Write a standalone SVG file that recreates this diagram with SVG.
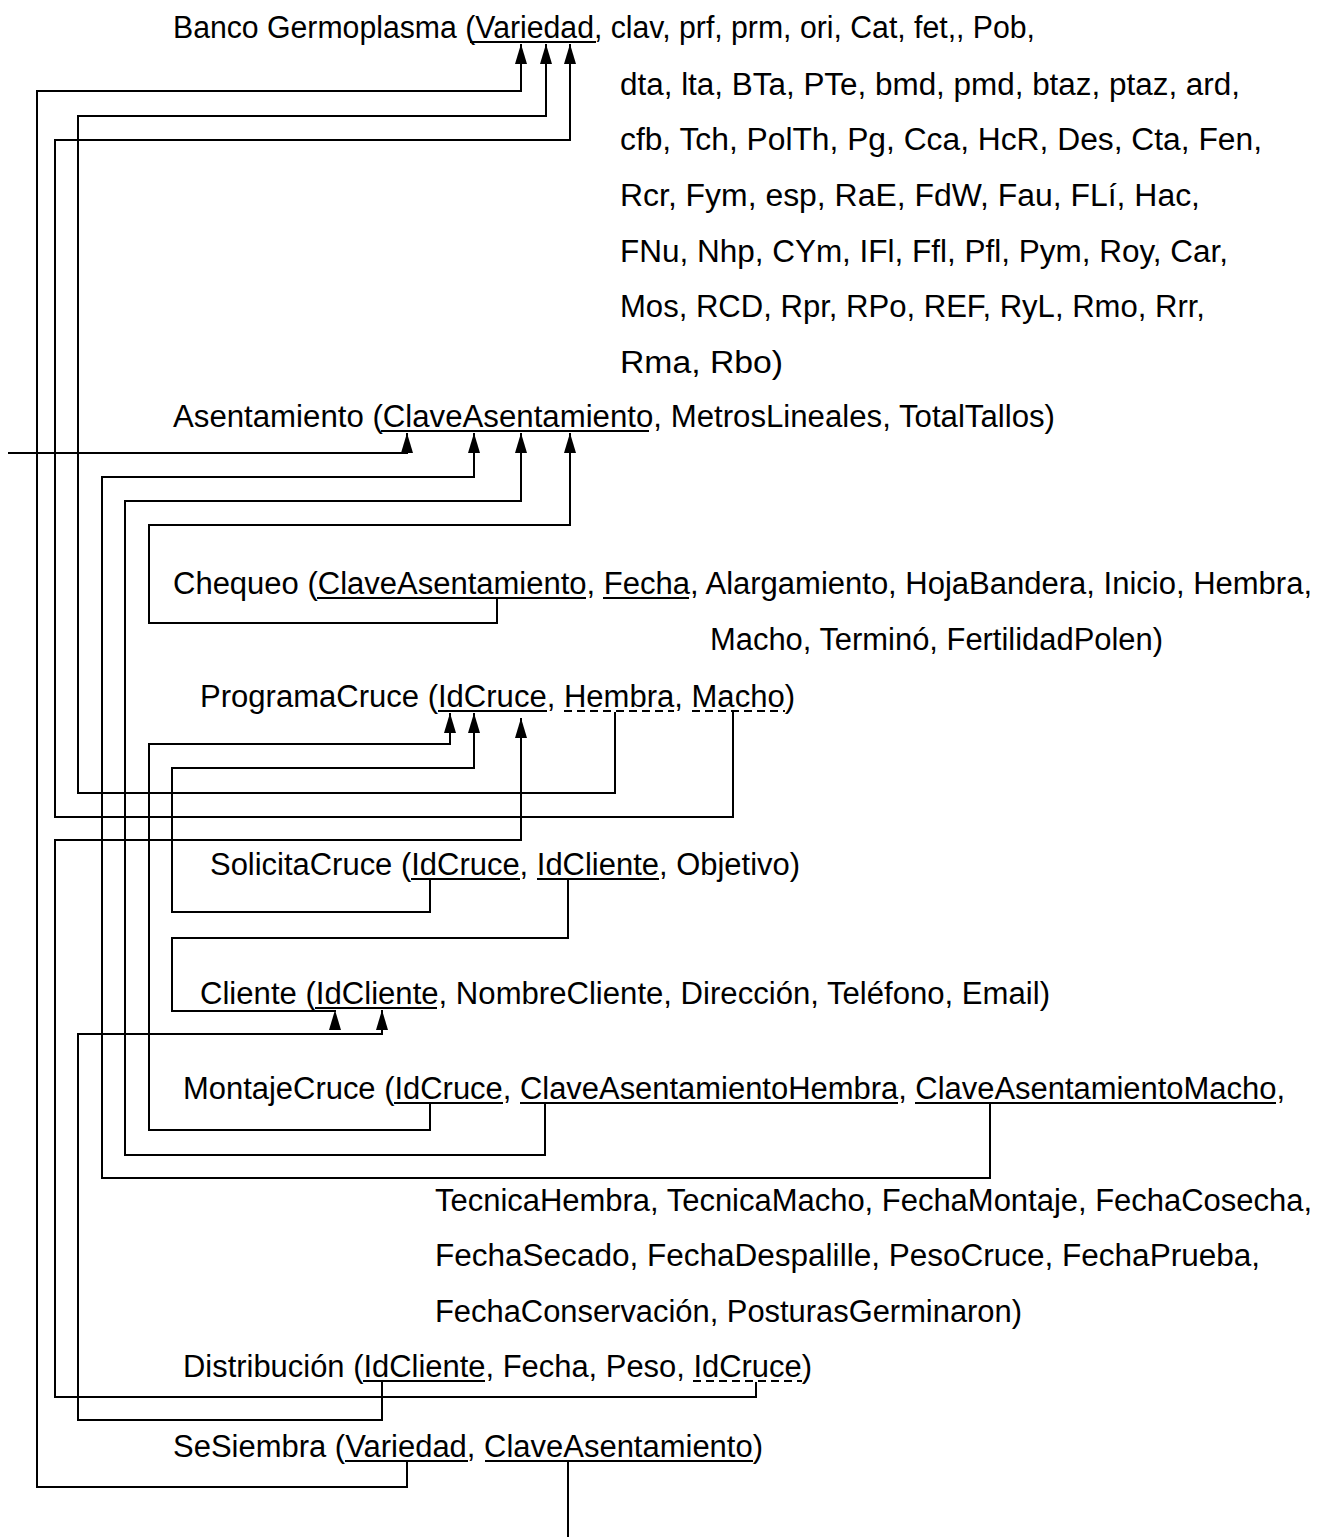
<svg xmlns="http://www.w3.org/2000/svg" width="1340" height="1537" viewBox="0 0 1340 1537">
<style>
text{font-family:"Liberation Sans",Arial,sans-serif;font-size:31px;fill:#000}
.u{stroke:#000;stroke-width:2;fill:none}
.d{stroke:#000;stroke-width:2;fill:none;stroke-dasharray:8 5}
.c{stroke:#000;stroke-width:2;fill:none}
</style>
<defs>
<marker id="ah" markerUnits="userSpaceOnUse" viewBox="0 -7 20 14" markerWidth="20" markerHeight="14" refX="20" refY="0" orient="auto">
<path d="M0,-6 L20,0 L0,6 z" fill="#000"/>
</marker>
</defs>
<rect width="1340" height="1537" fill="#fff"/>
<g id="banco">
<text x="173" y="38" textLength="862" lengthAdjust="spacingAndGlyphs">Banco Germoplasma (Variedad, clav, prf, prm, ori, Cat, fet,, Pob,</text>
<text x="620" y="95" textLength="620" lengthAdjust="spacingAndGlyphs">dta, lta, BTa, PTe, bmd, pmd, btaz, ptaz, ard,</text>
<text x="620" y="150" textLength="642" lengthAdjust="spacingAndGlyphs">cfb, Tch, PolTh, Pg, Cca, HcR, Des, Cta, Fen,</text>
<text x="620" y="206" textLength="580" lengthAdjust="spacingAndGlyphs">Rcr, Fym, esp, RaE, FdW, Fau, FLí, Hac,</text>
<text x="620" y="262" textLength="608" lengthAdjust="spacingAndGlyphs">FNu, Nhp, CYm, IFl, Ffl, Pfl, Pym, Roy, Car,</text>
<text x="620" y="317" textLength="585" lengthAdjust="spacingAndGlyphs">Mos, RCD, Rpr, RPo, REF, RyL, Rmo, Rrr,</text>
<text x="620" y="373" textLength="163" lengthAdjust="spacingAndGlyphs">Rma, Rbo)</text>
<line class="u" x1="470" y1="42" x2="596" y2="42"/>
</g>
<g id="asentamiento">
<text x="173" y="427" textLength="882" lengthAdjust="spacingAndGlyphs">Asentamiento (ClaveAsentamiento, MetrosLineales, TotalTallos)</text>
<line class="u" x1="381" y1="431" x2="649" y2="431"/>
</g>
<g id="chequeo">
<text x="173" y="594" textLength="1139" lengthAdjust="spacingAndGlyphs">Chequeo (ClaveAsentamiento, Fecha, Alargamiento, HojaBandera, Inicio, Hembra,</text>
<text x="710" y="650" textLength="453" lengthAdjust="spacingAndGlyphs">Macho, Terminó, FertilidadPolen)</text>
<line class="u" x1="317" y1="598" x2="586" y2="598"/>
<line class="u" x1="603" y1="598" x2="689" y2="598"/>
</g>
<g id="programacruce">
<text x="200" y="707" textLength="595" lengthAdjust="spacingAndGlyphs">ProgramaCruce (IdCruce, Hembra, Macho)</text>
<line class="u" x1="438" y1="711" x2="547" y2="711"/>
<line class="d" x1="564" y1="711" x2="674" y2="711"/>
<line class="d" x1="692" y1="711" x2="785" y2="711"/>
</g>
<g id="solicitacruce">
<text x="210" y="875" textLength="590" lengthAdjust="spacingAndGlyphs">SolicitaCruce (IdCruce, IdCliente, Objetivo)</text>
<line class="u" x1="411" y1="879" x2="520" y2="879"/>
<line class="u" x1="537" y1="879" x2="659" y2="879"/>
</g>
<g id="cliente">
<text x="200" y="1004" textLength="850" lengthAdjust="spacingAndGlyphs">Cliente (IdCliente, NombreCliente, Dirección, Teléfono, Email)</text>
<line class="u" x1="315" y1="1008" x2="437" y2="1008"/>
</g>
<g id="montajecruce">
<text x="183" y="1099" textLength="1102" lengthAdjust="spacingAndGlyphs">MontajeCruce (IdCruce, ClaveAsentamientoHembra, ClaveAsentamientoMacho,</text>
<text x="435" y="1211" textLength="877" lengthAdjust="spacingAndGlyphs">TecnicaHembra, TecnicaMacho, FechaMontaje, FechaCosecha,</text>
<text x="435" y="1266" textLength="825" lengthAdjust="spacingAndGlyphs">FechaSecado, FechaDespalille, PesoCruce, FechaPrueba,</text>
<text x="435" y="1322" textLength="587" lengthAdjust="spacingAndGlyphs">FechaConservación, PosturasGerminaron)</text>
<line class="u" x1="394" y1="1103" x2="503" y2="1103"/>
<line class="u" x1="520" y1="1103" x2="898" y2="1103"/>
<line class="u" x1="915" y1="1103" x2="1276" y2="1103"/>
</g>
<g id="distribucion">
<text x="183" y="1377" textLength="629" lengthAdjust="spacingAndGlyphs">Distribución (IdCliente, Fecha, Peso, IdCruce)</text>
<line class="u" x1="363" y1="1381" x2="485" y2="1381"/>
<line class="d" x1="693" y1="1381" x2="802" y2="1381"/>
</g>
<g id="sesiembra">
<text x="173" y="1457" textLength="590" lengthAdjust="spacingAndGlyphs">SeSiembra (Variedad, ClaveAsentamiento)</text>
<line class="u" x1="345" y1="1461" x2="468" y2="1461"/>
<line class="u" x1="485" y1="1461" x2="753" y2="1461"/>
</g>
<g id="connectors">
<polyline class="c" marker-end="url(#ah)" points="407,1462 407,1487 37,1487 37,91 521,91 521,44"/>
<polyline class="c" marker-end="url(#ah)" points="615,712 615,793 78,793 78,116 546,116 546,44"/>
<polyline class="c" marker-end="url(#ah)" points="733,712 733,817 55,817 55,140 570,140 570,44"/>
<polyline class="c" marker-end="url(#ah)" points="8,453 407,453 407,433"/>
<polyline class="c" points="568,1462 568,1537"/>
<polyline class="c" marker-end="url(#ah)" points="497,599 497,623 149,623 149,525 570,525 570,433"/>
<polyline class="c" marker-end="url(#ah)" points="545,1104 545,1155 125,1155 125,501 521,501 521,433"/>
<polyline class="c" marker-end="url(#ah)" points="990,1104 990,1178 102,1178 102,477 474,477 474,433"/>
<polyline class="c" marker-end="url(#ah)" points="430,1104 430,1130 149,1130 149,744 450,744 450,713"/>
<polyline class="c" marker-end="url(#ah)" points="430,880 430,912 172,912 172,768 474,768 474,713"/>
<polyline class="c" marker-end="url(#ah)" points="756,1382 756,1397 55,1397 55,840 521,840 521,718"/>
<polyline class="c" marker-end="url(#ah)" points="568,880 568,938 172,938 172,1011 335,1011 335,1010"/>
<polyline class="c" marker-end="url(#ah)" points="382,1382 382,1420 78,1420 78,1034 382,1034 382,1010"/>
</g>
</svg>
